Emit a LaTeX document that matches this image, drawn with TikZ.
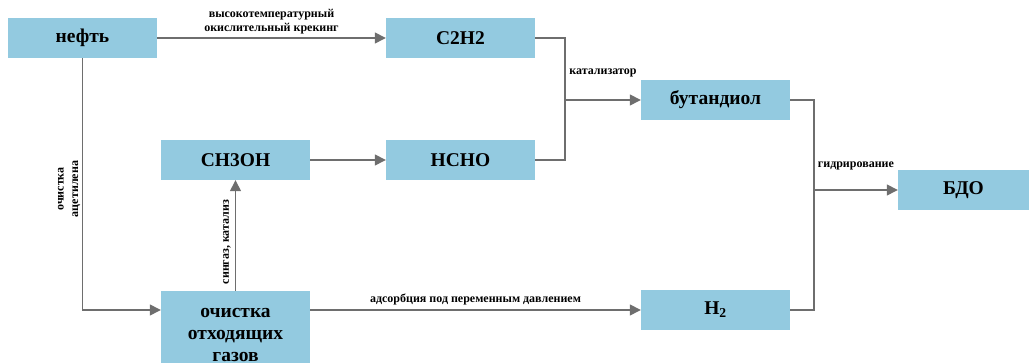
\documentclass[tikz,border=0pt]{standalone}
\usepackage{fontspec}
\setmainfont{Liberation Serif}
\usetikzlibrary{arrows.meta,calc}
\definecolor{boxblue}{HTML}{93CAE0}
\definecolor{linegray}{HTML}{6E6E6E}
\begin{document}
\begin{tikzpicture}[x=1pt,y=-1pt,
  box/.style={rectangle,fill=boxblue,minimum width=149pt,minimum height=40pt,inner sep=0pt,font=\fontsize{19.5}{22}\selectfont\bfseries,align=center},
  conn/.style={draw=linegray,line width=1.4pt},
  arr/.style={conn,-{Triangle[length=11pt,width=11pt]}},
  lbl/.style={font=\fontsize{12}{14.5}\selectfont\bfseries,align=center,inner sep=1pt}]
\useasboundingbox (0,0) rectangle (1029,363);
\node[box] (neft) at (82.5,38) {нефть};
\node[box] (c2h2) at (460.5,38) {C2H2};
\node[box] (but) at (715.5,100) {бутандиол};
\node[box] (ch3oh) at (235.5,160) {CH3OH};
\node[box] (hcho) at (460.5,160) {HCHO};
\node[box,minimum width=131pt] (bdo) at (963.5,190) {БДО};
\node[box] (h2) at (715.5,310) {H\textsubscript{2}};
\node[box,minimum height=88pt] (ochist) at (235.5,335) {очистка\\отходящих\\газов};
\coordinate (j1) at (565,100);
\coordinate (j2) at (814,190);
\draw[arr] (neft.east) -- node[lbl,above=2pt]{высокотемпературный\\окислительный крекинг} (c2h2.west);
\draw[conn] (c2h2.east) -| (j1) |- (hcho.east);
\draw[arr] (j1) -- node[lbl,midway,yshift=27pt]{катализатор} (but.west);
\draw[arr] (ch3oh.east) -- (hcho.west);
\draw[arr] (ochist.north) -- (ch3oh.south);
\node[lbl,rotate=90] (lsyn) at (227,242) {сингаз, катализ};
\draw[arr] (neft.south) |- (ochist.west |- h2);
\node[lbl,rotate=90] (lacet) at (69,189) {очистка\\ацетилена};
\draw[arr] (ochist.east |- h2) -- node[lbl,above=3pt]{адсорбция под переменным давлением} (h2.west);
\draw[conn] (but.east) -| (j2) |- (h2.east);
\draw[arr] (j2) -- node[lbl,midway,yshift=24pt]{гидрирование} (bdo.west);
\end{tikzpicture}
\end{document}
